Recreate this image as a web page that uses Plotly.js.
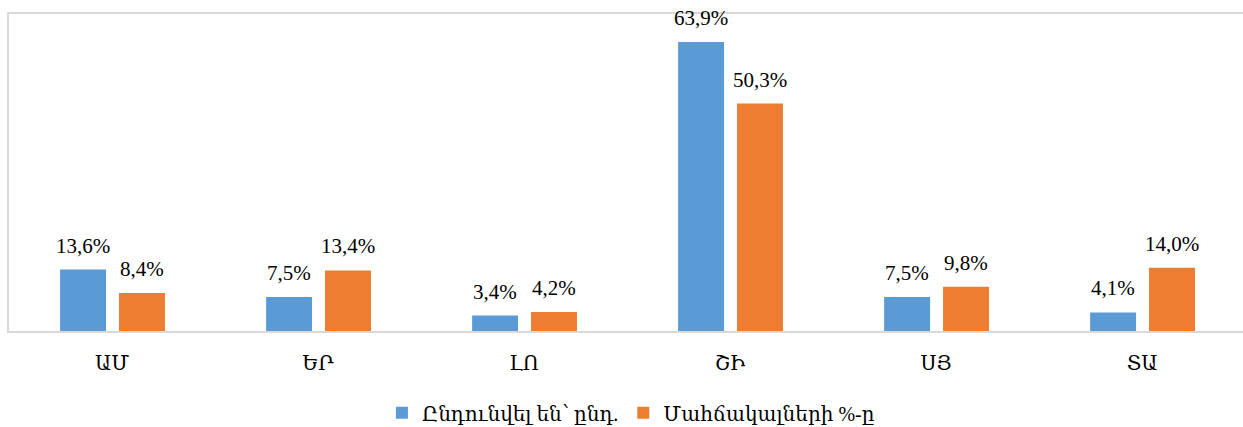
<!DOCTYPE html>
<html>
<head>
<meta charset="utf-8">
<script src="https://cdn.plot.ly/plotly-3.0.1.min.js"></script>
<style>html,body{margin:0;padding:0;background:#fff;}#chart{width:1243px;height:427px;}</style>
</head>
<body>
<div id="chart"></div>
<script>
const categories = ["ԱՄ", "ԵՐ", "ԼՈ", "ՇԻ", "ՍՅ", "ՏԱ"];
const seriesNames = ["Ընդունվել են՝ ընդ.", "Մահճակալների %-ը"];
const admitted = [13.6, 7.5, 3.4, 63.9, 7.5, 4.1];
const beds = [8.4, 13.4, 4.2, 50.3, 9.8, 14.0];
const colors = ["#5B9BD5", "#ED7D31"];

const FONT = "'Liberation Serif', 'DejaVu Serif', serif";
const barWidth = 0.223;
const offsets = [-0.252, 0.034];

function fmt(v) { return v.toFixed(1).replace('.', ',') + '%'; }

const seriesValues = [admitted, beds];
const traces = seriesValues.map((vals, s) => ({
  type: 'bar',
  name: seriesNames[s],
  x: categories,
  y: vals,
  width: barWidth,
  offset: offsets[s],
  marker: {color: colors[s]},
  hoverinfo: 'skip'
}));

const annotations = [];
seriesValues.forEach((vals, s) => {
  vals.forEach((v, i) => {
    annotations.push({
      x: i + offsets[s] + barWidth / 2,
      y: v,
      xref: 'x', yref: 'y',
      text: fmt(v),
      showarrow: false,
      xanchor: 'center', yanchor: 'middle',
      yshift: 24,
      font: {family: FONT, size: 21, color: '#000'}
    });
  });
});

const layout = {
  width: 1243, height: 427,
  margin: {l: 9, r: 0, t: 14, b: 96, autoexpand: false},
  paper_bgcolor: '#fff', plot_bgcolor: '#fff',
  showlegend: true,
  legend: {
    orientation: 'h', x: 0.504, xanchor: 'center', y: -0.258, yanchor: 'middle',
    font: {family: FONT, size: 20, color: '#000'},
    itemwidth: 30, tracegroupgap: 0
  },
  xaxis: {
    type: 'category',
    range: [-0.5, 5.49],
    showgrid: false, zeroline: false,
    showline: true, mirror: true, linecolor: '#D9D9D9', linewidth: 2,
    ticks: 'outside', ticklen: 13, tickcolor: 'rgba(0,0,0,0)',
    tickfont: {family: FONT, size: 20, color: '#000'}
  },
  yaxis: {
    range: [0, 70.1],
    showgrid: false, zeroline: false, showticklabels: false,
    showline: true, linecolor: '#D9D9D9', linewidth: 2
  },
  annotations: annotations
};

Plotly.newPlot('chart', traces, layout, {displayModeBar: false, staticPlot: true});
</script>
</body>
</html>
